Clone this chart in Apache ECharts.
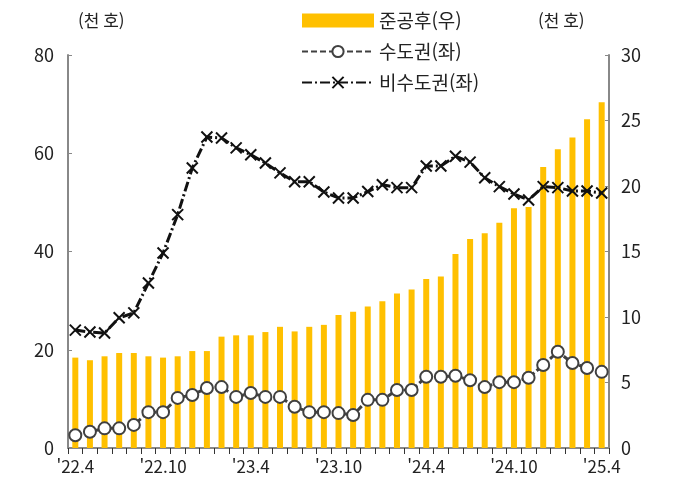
<!DOCTYPE html>
<html lang="ko">
<head>
<meta charset="utf-8" />
<script src="https://cdn.jsdelivr.net/npm/echarts@6/dist/echarts.min.js"></script>
<style>body{margin:0;background:#fff}</style>
</head>
<body>
<div id="main" style="width:685px;height:504px;"></div>
<script>
var months = [];
for (var y = 22; y <= 25; y++) {
  for (var m = 1; m <= 12; m++) {
    if ((y == 22 && m < 4) || (y == 25 && m > 4)) continue;
    months.push("'" + y + '.' + m);
  }
}
// 준공후 미분양 (우축, 천 호)
var completed = [6.9,6.7,7.0,7.25,7.25,7.0,6.9,7.0,7.4,7.4,8.5,8.6,8.6,8.85,9.25,8.9,9.25,9.4,10.15,10.4,
  10.8,11.2,11.8,12.1,12.9,13.1,14.8,15.95,16.4,17.2,18.3,18.4,21.45,22.8,23.7,25.1,26.4];
// 수도권 (좌축)
var metro = [2.6,3.3,4.0,4.0,4.7,7.3,7.3,10.2,10.8,12.2,12.4,10.4,11.2,10.4,10.4,8.4,7.3,7.3,7.1,6.7,
  9.8,9.8,11.8,11.8,14.5,14.5,14.7,13.8,12.4,13.4,13.4,14.3,16.9,19.6,17.3,16.3,15.5];
// 비수도권 (좌축)
var nonMetro = [24.0,23.6,23.4,26.5,27.5,33.6,39.7,47.5,57,63.3,63.1,61.1,59.7,58,56,54.2,54.2,52.1,50.9,50.9,
  52.2,53.6,53.0,53.0,57.4,57.4,59.4,58.2,55.0,53.2,51.7,50.5,53.2,53.0,52.3,52.3,51.9];

var chart = echarts.init(document.getElementById('main'));
var font = 'Noto Sans CJK KR';
var axisLine = { lineStyle: { color: '#888', width: 2 } };
var crossPath = 'path://M0,0L10,10M10,0L0,10';

chart.setOption({
  animation: false,
  textStyle: { fontFamily: font },
  grid: { left: 68, right: 76, top: 55, bottom: 56 },
  graphic: [
    { type: 'text', left: 78, top: 12, style: { text: '(천 호)', font: '17px "Noto Sans CJK KR"', fill: '#222' } },
    { type: 'text', left: 538, top: 12, style: { text: '(천 호)', font: '17px "Noto Sans CJK KR"', fill: '#222' } }
  ],
  legend: {
    orient: 'vertical', left: 296, top: 6, itemGap: 12, itemWidth: 72, itemHeight: 14,
    textStyle: { fontSize: 19, color: '#222', fontFamily: font },
    data: [
      { name: '준공후(우)', icon: 'rect' },
      { name: '수도권(좌)' },
      { name: '비수도권(좌)' }
    ]
  },
  xAxis: {
    type: 'category', data: months, boundaryGap: true,
    axisLine: axisLine,
    axisTick: { show: true, interval: 0, length: 6, lineStyle: { color: '#333' } },
    axisLabel: { interval: 5, fontSize: 17, color: '#222', margin: 10 }
  },
  yAxis: [
    { type: 'value', min: 0, max: 80, interval: 20, axisLine: Object.assign({ show: true }, axisLine),
      axisTick: { show: true, length: 4, inside: true, lineStyle: { color: '#888' } }, splitLine: { show: false },
      axisLabel: { fontSize: 18, color: '#222', margin: 14 } },
    { type: 'value', min: 0, max: 30, interval: 5, axisLine: Object.assign({ show: true }, axisLine),
      axisTick: { show: true, length: 4, inside: true, lineStyle: { color: '#888' } }, splitLine: { show: false },
      axisLabel: { fontSize: 18, color: '#222', margin: 12 } }
  ],
  series: [
    { name: '준공후(우)', type: 'bar', yAxisIndex: 1, data: completed, barWidth: 6,
      itemStyle: { color: '#FFC000' } },
    { name: '수도권(좌)', type: 'line', yAxisIndex: 0, data: metro,
      symbol: 'circle', symbolSize: 12, showAllSymbol: true,
      lineStyle: { color: '#404040', width: 3, type: [6, 3] },
      itemStyle: { color: '#fff', borderColor: '#404040', borderWidth: 2 } },
    { name: '비수도권(좌)', type: 'line', yAxisIndex: 0, data: nonMetro,
      symbol: crossPath, symbolSize: 11, showAllSymbol: true,
      lineStyle: { color: '#111', width: 3, type: [10, 3, 2, 3] },
      itemStyle: { color: 'rgba(0,0,0,0)', borderColor: '#111', borderWidth: 2 } }
  ]
});
</script>
</body>
</html>
